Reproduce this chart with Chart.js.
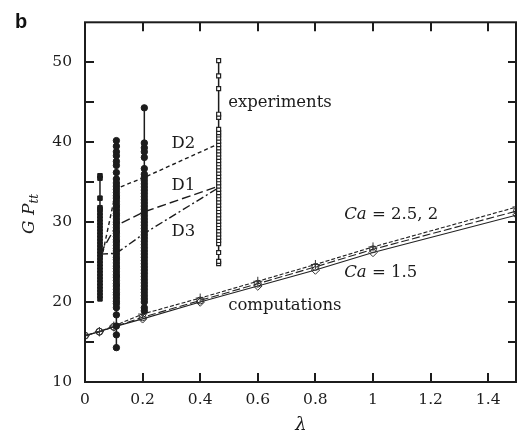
<!DOCTYPE html>
<html>
<head>
<meta charset="utf-8">
<script src="https://cdn.jsdelivr.net/npm/chart.js@4.4.1/dist/chart.umd.min.js"></script>
<style>
  html, body { margin: 0; padding: 0; background: #fff; }
  canvas { display: block; }
</style>
</head>
<body>
<canvas id="chart" width="517" height="437"></canvas>
<script>
// axis ticks
const xTicks = [0, 0.2, 0.4, 0.6, 0.8, 1, 1.2, 1.4];
const yTicks = [10, 20, 30, 40, 50];
const yMinor = [15, 25, 35, 45];

// experiments: lambda of each column, then the measured values
const expLambda = [0.052, 0.109, 0.206, 0.464];
const expA = [20.4, 20.8, 21.2, 21.6, 22.0, 22.4, 22.8, 23.2, 23.6, 24.0, 24.4, 24.8, 25.2, 25.6,
    26.0, 26.4, 26.8, 27.2, 27.6, 28.0, 28.4, 28.8, 29.2, 29.6, 30.0, 30.4, 30.8, 31.2, 31.6, 31.8,
    33.0, 35.5, 35.8];
const expB = [14.3, 15.9, 17.0, 18.4, 19.3, 19.8, 20.1, 20.5, 20.9, 21.2, 21.6, 22.0, 22.3, 22.7,
    23.1, 23.4, 23.8, 24.2, 24.5, 24.9, 25.3, 25.6, 26.0, 26.4, 26.7, 27.1, 27.5, 27.8, 28.2, 28.6,
    28.9, 29.3, 29.7, 30.0, 30.4, 30.8, 31.1, 31.5, 31.9, 32.2, 32.6, 33.0, 33.3, 33.7, 34.1, 34.5,
    34.9, 35.4, 36.2, 37.1, 37.6, 38.3, 38.8, 39.5, 40.2];
const expC = [18.9, 19.3, 20.0, 20.4, 20.8, 21.2, 21.6, 22.0, 22.4, 22.8, 23.2, 23.6, 24.0, 24.4,
    24.8, 25.2, 25.6, 26.0, 26.4, 26.8, 27.2, 27.6, 28.0, 28.4, 28.8, 29.2, 29.6, 30.0, 30.4, 30.8,
    31.2, 31.6, 32.0, 32.4, 32.8, 33.2, 33.6, 34.0, 34.4, 34.8, 35.2, 35.6, 36.0, 36.7, 38.1, 38.8,
    39.3, 39.9, 44.3];
const expD = [24.8, 25.1, 26.2, 27.3, 27.7, 28.1, 28.5, 28.9, 29.3, 29.7, 30.1, 30.5, 30.9, 31.3,
    31.7, 32.1, 32.5, 32.9, 33.3, 33.7, 34.1, 34.5, 34.9, 35.3, 35.7, 36.1, 36.5, 36.9, 37.3, 37.7,
    38.1, 38.5, 38.9, 39.3, 39.7, 40.1, 40.5, 40.9, 41.2, 41.6, 43.1, 43.5, 46.7, 48.3, 50.2];

// fitted curves D1..D3 through the four columns
const d1 = [26.0, 29.6, 31.3, 34.5];
const d2 = [24.5, 34.2, 35.6, 39.8];
const d3 = [26.0, 26.1, 28.6, 34.3];

// computations for three capillary numbers
const compLambda = [0, 0.05, 0.1, 0.2, 0.4, 0.6, 0.8, 1, 1.5];
const ca15 = [15.8, 16.3, 16.9, 17.9, 20.0, 22.0, 24.0, 26.2, 30.9];
const ca2 = [15.8, 16.3, 16.9, 18.1, 20.2, 22.3, 24.4, 26.6, 31.4];
const ca25 = [15.8, 16.3, 17.0, 18.5, 20.5, 22.6, 24.7, 26.9, 31.9];

const column = (lam, vals) => vals.map(v => ({ x: lam, y: v }));
const curve = (xs, ys) => xs.map((x, i) => ({ x, y: ys[i] }));

const serif = '"DejaVu Serif", serif';
const ink = '#1c1c1c';

// free text in the plot, anchored in data units
const notes = [
    { x: 0.497, y: 44.9, parts: [['experiments', '']] },
    { x: 0.300, y: 39.8, parts: [['D2', '']] },
    { x: 0.300, y: 34.6, parts: [['D1', '']] },
    { x: 0.300, y: 28.8, parts: [['D3', '']] },
    { x: 0.900, y: 30.9, parts: [['Ca', 'italic '], [' = 2.5, 2', '']] },
    { x: 0.900, y: 23.7, parts: [['Ca', 'italic '], [' = 1.5', '']] },
    { x: 0.497, y: 19.5, parts: [['computations', '']] }
];

const frame = {
    id: 'frame',
    afterDraw(chart) {
        const { ctx, chartArea: a, scales: { x, y } } = chart;
        ctx.save();
        ctx.strokeStyle = ink;
        ctx.lineWidth = 2;
        ctx.strokeRect(a.left, a.top, a.right - a.left - 1, a.bottom - a.top);
        const tl = 9;
        ctx.beginPath();
        xTicks.forEach(v => {
            const px = Math.round(x.getPixelForValue(v));
            ctx.moveTo(px, a.bottom); ctx.lineTo(px, a.bottom - tl);
            ctx.moveTo(px, a.top); ctx.lineTo(px, a.top + tl);
        });
        yTicks.concat(yMinor).forEach(v => {
            const py = Math.round(y.getPixelForValue(v));
            ctx.moveTo(a.left, py); ctx.lineTo(a.left + tl, py);
            ctx.moveTo(a.right, py); ctx.lineTo(a.right - tl, py);
        });
        ctx.stroke();

        ctx.fillStyle = ink;
        ctx.textBaseline = 'middle';
        notes.forEach(n => {
            let px = x.getPixelForValue(n.x);
            const py = y.getPixelForValue(n.y);
            n.parts.forEach(([t, st]) => {
                ctx.font = st + '16.5px ' + serif;
                ctx.fillText(t, px, py);
                px += ctx.measureText(t).width;
            });
        });

        // axis titles
        ctx.font = 'italic 18px ' + serif;
        ctx.textAlign = 'center';
        ctx.fillText('λ', (a.left + a.right) / 2, 425);

        ctx.translate(30, 214);
        ctx.rotate(-Math.PI / 2);
        ctx.textAlign = 'left';
        ctx.font = 'italic 17px ' + serif;
        const main = 'G P';
        const w1 = ctx.measureText(main).width;
        ctx.font = 'italic 12px ' + serif;
        const w2 = ctx.measureText('tt').width;
        const x0 = -(w1 + w2) / 2;
        ctx.font = 'italic 17px ' + serif;
        ctx.fillText(main, x0, 0);
        ctx.font = 'italic 12px ' + serif;
        ctx.fillText('tt', x0 + w1, 5);
        ctx.restore();

        ctx.save();
        ctx.fillStyle = '#111';
        ctx.font = 'bold 20px "Liberation Sans", Arial, sans-serif';
        ctx.textBaseline = 'alphabetic';
        ctx.fillText('b', 15, 28);
        ctx.restore();
    }
};

const expStyle = (style, r, fill, border, bw) => ({
    showLine: true,
    borderColor: ink,
    borderWidth: 1.5,
    pointStyle: style,
    pointRadius: r,
    pointBackgroundColor: fill,
    pointBorderColor: border,
    pointBorderWidth: bw
});

const dStyle = dash => ({
    showLine: true,
    borderColor: ink,
    borderWidth: 1.4,
    borderDash: dash,
    pointRadius: 0
});

const compStyle = (dash, style, r) => ({
    showLine: true,
    borderColor: '#222',
    borderWidth: 1.1,
    borderDash: dash,
    pointStyle: style,
    pointRadius: r,
    pointBackgroundColor: 'rgba(255,255,255,0)',
    pointBorderColor: '#333',
    pointBorderWidth: 1
});

new Chart(document.getElementById('chart'), {
    type: 'scatter',
    data: {
        datasets: [
            { data: column(expLambda[0], expA), ...expStyle('rect', 3.2, ink, ink, 1) },
            { data: column(expLambda[1], expB), ...expStyle('circle', 3.2, ink, ink, 1) },
            { data: column(expLambda[2], expC), ...expStyle('circle', 3.2, ink, ink, 1) },
            { data: column(expLambda[3], expD), ...expStyle('rect', 2.8, '#fff', '#222', 1.2) },
            { data: curve(expLambda, d2), ...dStyle([4, 3]) },
            { data: curve(expLambda, d1), ...dStyle([9, 4]) },
            { data: curve(expLambda, d3), ...dStyle([8, 3, 2, 3]) },
            { data: curve(compLambda, ca25), ...compStyle([4, 2], 'cross', 4.5) },
            { data: curve(compLambda, ca2), ...compStyle([8, 3], 'circle', 3.5) },
            { data: curve(compLambda, ca15), ...compStyle([], 'rectRot', 4.2) }
        ]
    },
    options: {
        responsive: false,
        animation: false,
        devicePixelRatio: 1,
        layout: { autoPadding: false, padding: { top: 14, right: 0, left: 0, bottom: 0 } },
        plugins: { legend: { display: false }, tooltip: { enabled: false } },
        scales: {
            x: {
                type: 'linear',
                min: 0,
                max: 1.5,
                afterFit: s => { s.height = 55; },
                afterBuildTicks: s => { s.ticks = xTicks.map(v => ({ value: v })); },
                grid: { display: false, drawTicks: false },
                border: { display: false },
                ticks: {
                    padding: 9,
                    color: ink,
                    font: { family: serif, size: 15.5 },
                    callback: v => String(v)
                }
            },
            y: {
                type: 'linear',
                min: 10,
                max: 55,
                afterFit: s => { s.width = 85; },
                afterBuildTicks: s => { s.ticks = yTicks.map(v => ({ value: v })); },
                grid: { display: false, drawTicks: false },
                border: { display: false },
                ticks: {
                    padding: 13,
                    color: ink,
                    font: { family: serif, size: 15.5 }
                }
            }
        }
    },
    plugins: [frame]
});
</script>
</body>
</html>
